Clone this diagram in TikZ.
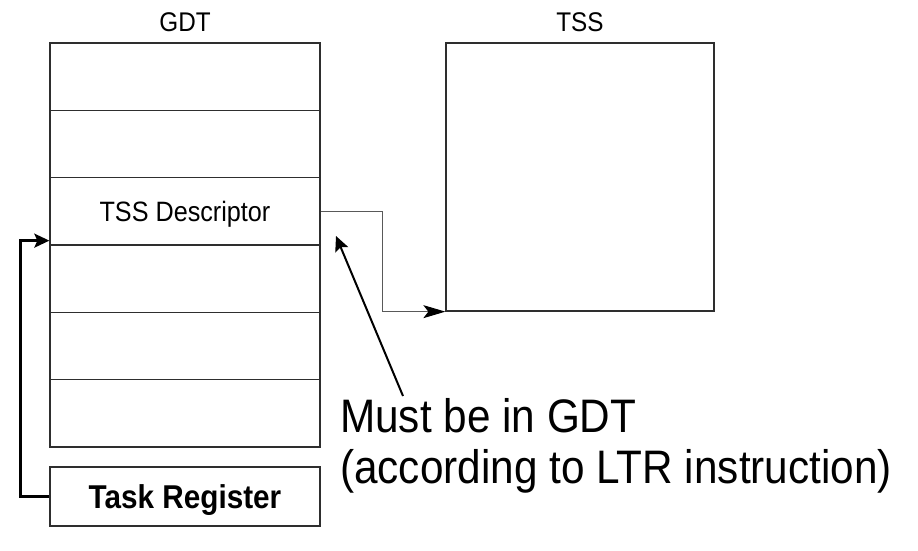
\documentclass[tikz,border=0pt]{standalone}
\usepackage{fontspec}
\setmainfont{Liberation Sans}[FakeStretch=0.9]
\usetikzlibrary{arrows.meta,positioning,calc}
\definecolor{edgegray}{gray}{0.18}
\definecolor{linkgray}{gray}{0.35}

\begin{document}
\begin{tikzpicture}[
    x=1pt, y=-1pt,
    row/.style={draw=edgegray, line width=1.3pt, minimum width=270pt,
                minimum height=67.33pt, inner sep=0pt, text depth=0pt,
                font=\fontsize{28}{30}\selectfont},
    tssbox/.style={draw=edgegray, line width=1.3pt, minimum width=268pt,
                   minimum height=268pt, inner sep=0pt},
    regbox/.style={draw=edgegray, line width=1.3pt, minimum width=270pt,
                   minimum height=59pt, inner sep=0pt, text depth=0pt,
                   font=\bfseries\fontsize{33}{36}\selectfont},
    head/.style={inner sep=0pt, font=\fontsize{27}{30}\selectfont},
    thinarrow/.style={-{Stealth[length=22pt, width=13pt, inset=5pt, color=black]},
                      draw=linkgray, line width=1pt},
    arrow/.style={-{Stealth[length=15pt, width=14pt, inset=3pt]},
                  line width=2.4pt},
    note/.style={inner sep=0pt, align=left,
                 font=\fontsize{47}{51}\selectfont},
  ]
  \useasboundingbox (0,0) rectangle (918,551);

  % GDT
  \node[head] (gdthead) at (185,22) {GDT};
  \foreach \i in {1,...,6} {
    \node[row] (r\i) at (185,{43+67.33*(\i-0.5)}) {};
  }
  \node[text depth=0pt, font=\fontsize{28}{30}\selectfont] at (r3) {TSS Descriptor};

  % TSS
  \node[head] (tsshead) at (580,22) {TSS};
  \node[tssbox] (tss) at (580,177) {};

  % Task register
  \node[regbox] (treg) at (185,496.5) {Task Register};

  % Links
  \draw[thinarrow] (r3.east) -- ++(62,0) |- (tss.south west);
  \draw[arrow] (treg.west) -- ++(-29,0) |- ([yshift=5pt]r3.south west);

  % Note
  \node[note, anchor=north west] (must) at (340,398)
    {Must be in GDT\\(according to LTR instruction)};
  \coordinate (tip) at (336,236);
  \draw[arrow, line width=2pt] ($(must.north west)+(63,-2)$) -- (tip);
\end{tikzpicture}
\end{document}
